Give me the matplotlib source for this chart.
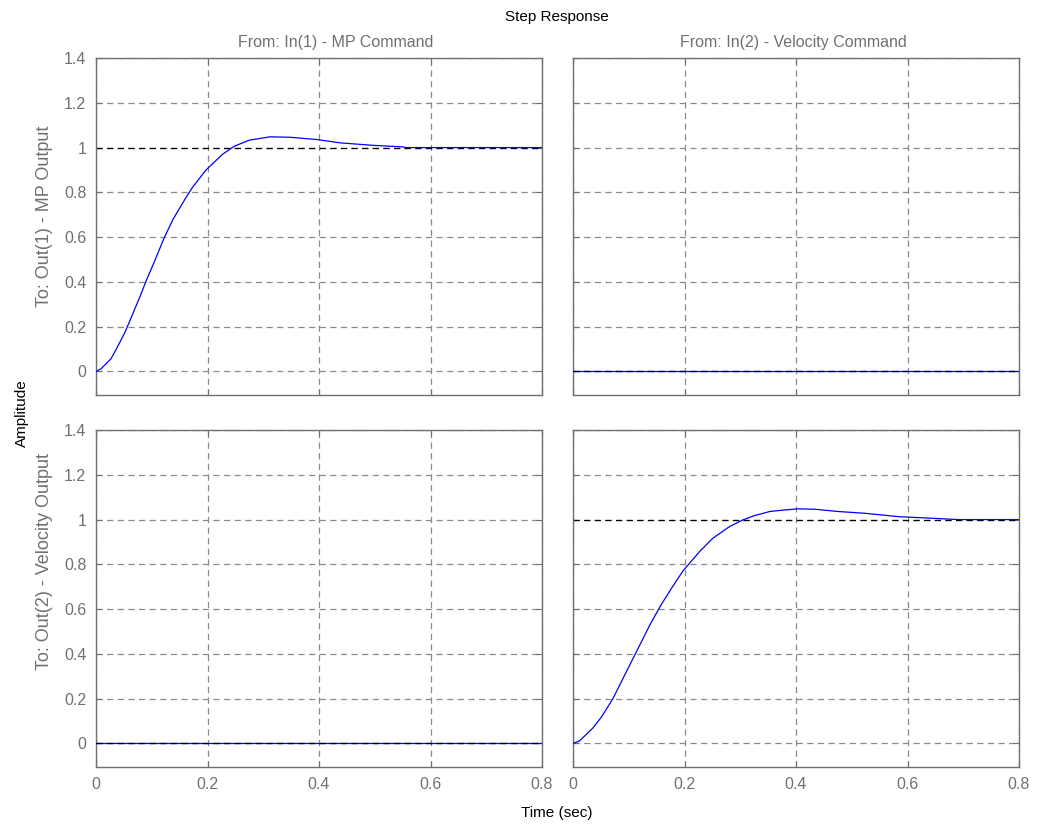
import numpy as np
import matplotlib
matplotlib.use("Agg")
import matplotlib.pyplot as plt

plt.rcParams['font.family'] = ['Liberation Sans', 'DejaVu Sans']

# step response, input 1 -> output 1
t_mp = [0.0, 0.009, 0.027, 0.036, 0.051, 0.060, 0.078, 0.090, 0.105, 0.122,
        0.138, 0.161, 0.173, 0.197, 0.227, 0.248, 0.275, 0.312, 0.348, 0.396,
        0.438, 0.497, 0.551, 0.555, 0.8]
y_mp = [0.0, 0.012, 0.057, 0.098, 0.170, 0.222, 0.329, 0.405, 0.492, 0.595,
        0.679, 0.775, 0.822, 0.899, 0.970, 1.006, 1.033, 1.048, 1.046, 1.036,
        1.021, 1.010, 1.003, 1.0, 1.0]

# step response, input 2 -> output 2
t_vel = [0.0, 0.012, 0.036, 0.051, 0.072, 0.090, 0.111, 0.138, 0.158, 0.179,
         0.197, 0.227, 0.251, 0.281, 0.305, 0.326, 0.353, 0.380, 0.404, 0.434,
         0.476, 0.524, 0.584, 0.643, 0.691, 0.8]
y_vel = [0.0, 0.012, 0.070, 0.118, 0.202, 0.292, 0.396, 0.530, 0.619, 0.702,
         0.770, 0.857, 0.917, 0.969, 0.999, 1.018, 1.036, 1.043, 1.048, 1.046,
         1.036, 1.028, 1.013, 1.006, 1.0, 1.0]

# cross terms are zero
t_zero = [0.0, 0.8]
y_zero = [0.0, 0.0]

col_titles = ['From: In(1) - MP Command', 'From: In(2) - Velocity Command']
row_labels = ['To: Out(1) - MP Output', 'To: Out(2) - Velocity Output']
final_vals = [[1.0, 0.0], [0.0, 1.0]]
curves = [[(t_mp, y_mp), (t_zero, y_zero)],
          [(t_zero, y_zero), (t_vel, y_vel)]]

xticks = [0, 0.2, 0.4, 0.6, 0.8]
yticks = [0, 0.2, 0.4, 0.6, 0.8, 1.0, 1.2, 1.4]
ytick_labels = ['0', '0.2', '0.4', '0.6', '0.8', '1', '1.2', '1.4']
xtick_labels = ['0', '0.2', '0.4', '0.6', '0.8']

W, H = 1038, 827
fig = plt.figure(figsize=(W / 100, H / 100), dpi=100)

lefts = [96, 573]
tops = [58, 430]
aw, ah = 446, 337
gray = '#707070'
dash = (0, (5, 3.5))

for r in range(2):
    for c in range(2):
        ax = fig.add_axes([lefts[c] / W, 1 - (tops[r] + ah) / H, aw / W, ah / H])
        ax.set_xlim(0, 0.8)
        ax.set_ylim(-0.105, 1.4)
        ax.set_xticks(xticks)
        ax.set_yticks(yticks)
        ax.grid(True, color='#8a8a8a', linestyle=dash, linewidth=0.9)
        ax.set_axisbelow(True)
        tt, yy = curves[r][c]
        ax.plot(tt, yy, color='#0000ff', linewidth=0.9, zorder=3)
        ax.axhline(final_vals[r][c], color='black', linestyle=dash,
                   linewidth=0.9, zorder=4 if final_vals[r][c] == 0 else 2)
        ax.tick_params(direction='in', length=4, colors=gray, labelsize=11.5,
                       top=True, right=True, pad=7)
        for s in ax.spines.values():
            s.set_color(gray)
            s.set_linewidth(1.0)
        if c == 0:
            ax.set_yticklabels(ytick_labels)
        else:
            ax.set_yticklabels([])
        if r == 1:
            ax.set_xticklabels(xtick_labels)
        else:
            ax.set_xticklabels([])

# column / row labels
title_x = [336, 793]
for c in range(2):
    fig.text(title_x[c] / W, 1 - 42 / H, col_titles[c], ha='center', va='center',
             fontsize=11.5, color=gray)
row_y = [216, 561]
for r in range(2):
    fig.text(45 / W, 1 - row_y[r] / H, row_labels[r], ha='center', va='center',
             rotation=90, fontsize=13, color=gray)

fig.text(557 / W, 1 - 17 / H, 'Step Response', ha='center', va='center',
         fontsize=11, color='black')
fig.text(557 / W, 1 - 813 / H, 'Time (sec)', ha='center', va='center',
         fontsize=11, color='black')
fig.text(22 / W, 1 - 413 / H, 'Amplitude', ha='center', va='center',
         rotation=90, fontsize=11, color='black')

fig.savefig('out.png', dpi=100)
